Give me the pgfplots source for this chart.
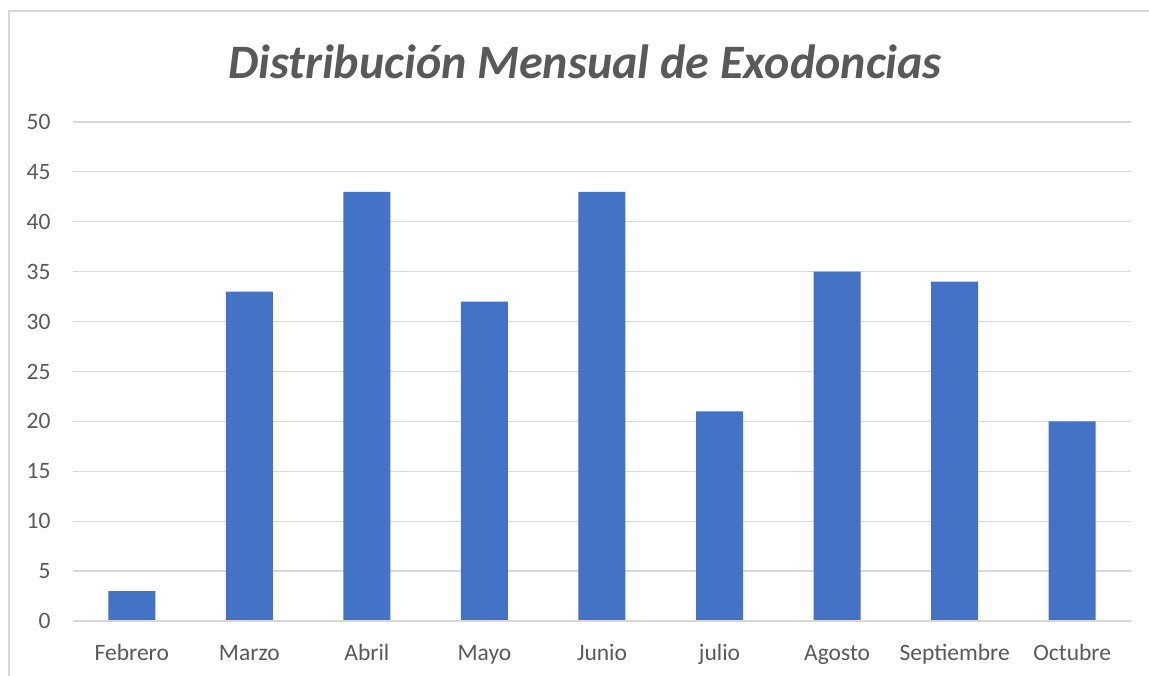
\documentclass[border=0pt]{standalone}
\usepackage{pgfplots}
\pgfplotsset{compat=1.18}
\usepackage{fontspec}
\setmainfont{Carlito}
\definecolor{barblue}{HTML}{4472C4}
\definecolor{txtgray}{HTML}{595959}
\definecolor{gridgray}{HTML}{D9D9D9}
\begin{document}
\begin{tikzpicture}[x=1pt,y=1pt]
\path[use as bounding box] (0,0) rectangle (1149,676);
\draw[gridgray,line width=1.2pt] (9,-20) -- (9,665) -- (1170,665);
\begin{axis}[
  at={(73pt,55pt)}, anchor=south west,
  scale only axis, width=1058pt, height=499pt,
  xmin=-0.5, xmax=8.5, ymin=0, ymax=50,
  ytick={0,5,...,50},
  xtick=data,
  xticklabels={Febrero,Marzo,Abril,Mayo,Junio,julio,Agosto,Septiembre,Octubre},
  axis line style={draw=none},
  tick style={draw=none},
  ymajorgrids, grid style={gridgray,line width=1.2pt},
  ybar, bar width=47pt,
  ticklabel style={font=\fontsize{23.5}{28}\selectfont, text=txtgray},
  /pgf/number format/assume math mode=true,
  yticklabel style={xshift=-19pt},
  xticklabel style={anchor=base, yshift=-35pt},
  clip=false,
]
\addplot[fill=barblue, draw=none] coordinates {(0,3) (1,33) (2,43) (3,32) (4,43) (5,21) (6,35) (7,34) (8,20)};
\draw[gridgray,line width=1.2pt] (axis cs:-0.5,0) -- (axis cs:8.5,0);
\end{axis}
\node[text=txtgray, font=\fontsize{48}{57}\selectfont\bfseries\itshape] at (585,614) {Distribución Mensual de Exodoncias};
\end{tikzpicture}
\end{document}
